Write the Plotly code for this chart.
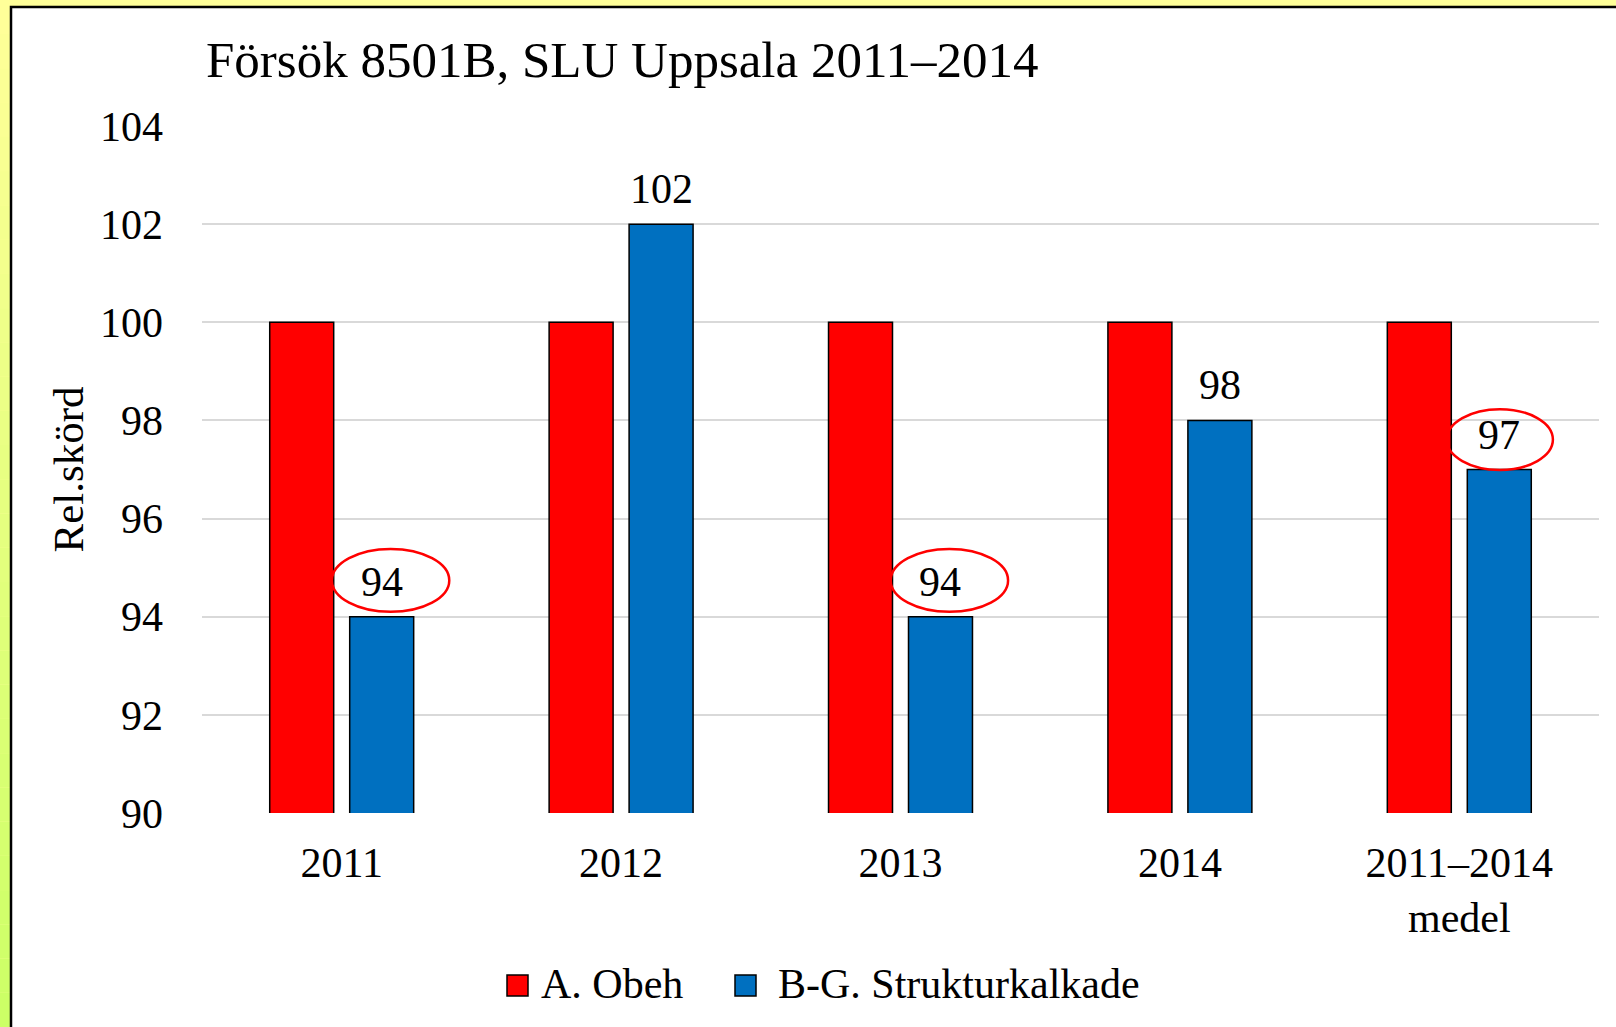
import plotly.graph_objects as go

categories = ["2011", "2012", "2013", "2014", "2011–2014<br>medel"]
obeh = [100, 100, 100, 100, 100]
struktur = [94, 102, 94, 98, 97]
highlight_idx = [0, 2, 4]
series_names = ["A. Obeh", "B-G. Strukturkalkade"]
y_ticks = [90, 92, 94, 96, 98, 100, 102, 104]

W, H = 1616, 1027
L, R, T, B = 202, 17, 126, 214
PW, PH = W - L - R, H - T - B
FONT = "Liberation Serif"
RED = "#ff0000"
BLUE = "#0070c0"
BARGAP, GROUPGAP = 0.4275, 0.2
BLUE_OFFSET = (1 - BARGAP) / 4  # centre of the second bar within its category

# ellipse geometry (relative to category index / value): dx0, dx1, dy0, dy1
ELLIPSE_GEOM = {0: (-0.035, 0.385, 0.1, 1.38), 2: (-0.035, 0.385, 0.1, 1.38), 4: (-0.045, 0.335, -0.01, 1.23)}


def px(x):
    return (x - L) / PW


def py(y):
    return (H - B - y) / PH


fig = go.Figure()
fig.add_trace(go.Bar(x=categories, y=obeh, name=series_names[0],
                     marker=dict(color=RED, line=dict(color="black", width=1.5)), showlegend=False))
fig.add_trace(go.Bar(x=categories, y=struktur, name=series_names[1],
                     marker=dict(color=BLUE, line=dict(color="black", width=1.5)), showlegend=False))

shapes = []
annotations = []
# background: yellow edges
shapes.append(dict(type="rect", xref="paper", yref="paper", x0=px(0), x1=px(W), y0=py(0), y1=py(H),
                   fillcolor="#ffff99", line=dict(width=0), layer="below"))
n = 30
c0 = (0xff, 0xff, 0x99)
c1 = (0xcc, 0xff, 0x66)
for i in range(n):
    t = i / (n - 1)
    col = "rgb(%d,%d,%d)" % tuple(round(a + (b - a) * t) for a, b in zip(c0, c1))
    shapes.append(dict(type="rect", xref="paper", yref="paper", x0=px(0), x1=px(11),
                       y0=py(H * i / n), y1=py(H * (i + 1) / n), fillcolor=col, line=dict(width=0), layer="below"))
shapes.append(dict(type="rect", xref="paper", yref="paper", x0=px(11), x1=px(W + 10), y0=py(7), y1=py(H + 10),
                   fillcolor="white", line=dict(color="black", width=2.5), layer="below"))

# value labels of the second series
for i, v in enumerate(struktur):
    annotations.append(dict(xref="x", yref="y", x=i + BLUE_OFFSET, y=v, yanchor="bottom", yshift=10,
                            text=str(v), showarrow=False, font=dict(family=FONT, size=42, color="black")))

# ellipses around highlighted labels
for i in highlight_idx:
    v = struktur[i]
    dx0, dx1, dy0, dy1 = ELLIPSE_GEOM[i]
    shapes.append(dict(type="circle", xref="x", yref="y", x0=i + dx0, x1=i + dx1, y0=v + dy0, y1=v + dy1,
                       line=dict(color=RED, width=2.5), fillcolor="rgba(0,0,0,0)", layer="above"))

# legend
leg = [(507, 539, RED, series_names[0]), (735, 776, BLUE, series_names[1])]
for x0, xt, col, name in leg:
    shapes.append(dict(type="rect", xref="paper", yref="paper", x0=px(x0), x1=px(x0 + 21), y0=py(975), y1=py(996),
                       fillcolor=col, line=dict(color="black", width=1.5)))
    annotations.append(dict(xref="paper", yref="paper", x=px(xt), y=py(984), xanchor="left", yanchor="middle",
                            text=name, showarrow=False, font=dict(family=FONT, size=42, color="black")))

fig.update_layout(
    width=W, height=H,
    margin=dict(l=L, r=R, t=T, b=B),
    paper_bgcolor="white", plot_bgcolor="rgba(0,0,0,0)",
    barmode="group", bargap=BARGAP, bargroupgap=GROUPGAP,
    font=dict(family=FONT, size=42, color="black"),
    title=dict(text="Försök 8501B, SLU Uppsala 2011–2014", x=206 / W, xanchor="left", xref="container",
               y=1 - 59 / H, yanchor="middle", font=dict(family=FONT, size=51, color="black")),
    xaxis=dict(type="category", showgrid=False, showline=False, ticks="", ticklabelstandoff=21,
               tickfont=dict(family=FONT, size=42, color="black")),
    yaxis=dict(range=[90, 104], tickvals=y_ticks, showgrid=True, gridcolor="#d9d9d9", gridwidth=1.5,
               zeroline=False, showline=False, ticks="", ticklabelstandoff=38,
               tickfont=dict(family=FONT, size=42, color="black"),
               title=dict(text="Rel.skörd", standoff=2, font=dict(family=FONT, size=43, color="black"))),
    shapes=shapes, annotations=annotations,
    showlegend=False,
)

fig.write_html("out.html", config={"displayModeBar": False},
               post_script="document.body.style.margin='0';document.body.style.overflow='hidden';")
